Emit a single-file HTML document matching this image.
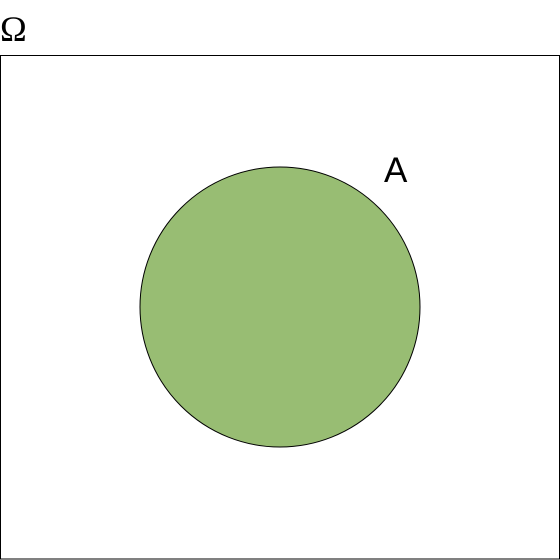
<!DOCTYPE html>
<html><head><meta charset="utf-8"><style>
html,body{margin:0;padding:0;background:#fff;}
svg{display:block;}
</style></head><body>
<svg width="560" height="560" viewBox="0 0 560 560">
<rect x="0" y="0" width="560" height="560" fill="#fff"/>
<text x="0" y="41" font-family="Liberation Serif, serif" font-size="36" fill="#000">Ω</text>
<rect x="0.5" y="55.5" width="559" height="503.5" fill="none" stroke="#000" stroke-width="1"/>
<circle cx="280" cy="307" r="140" fill="#98bd73" stroke="#000" stroke-width="1"/>
<text x="384" y="182" font-family="Liberation Sans, sans-serif" font-size="35" fill="#000">A</text>
</svg>
</body></html>
